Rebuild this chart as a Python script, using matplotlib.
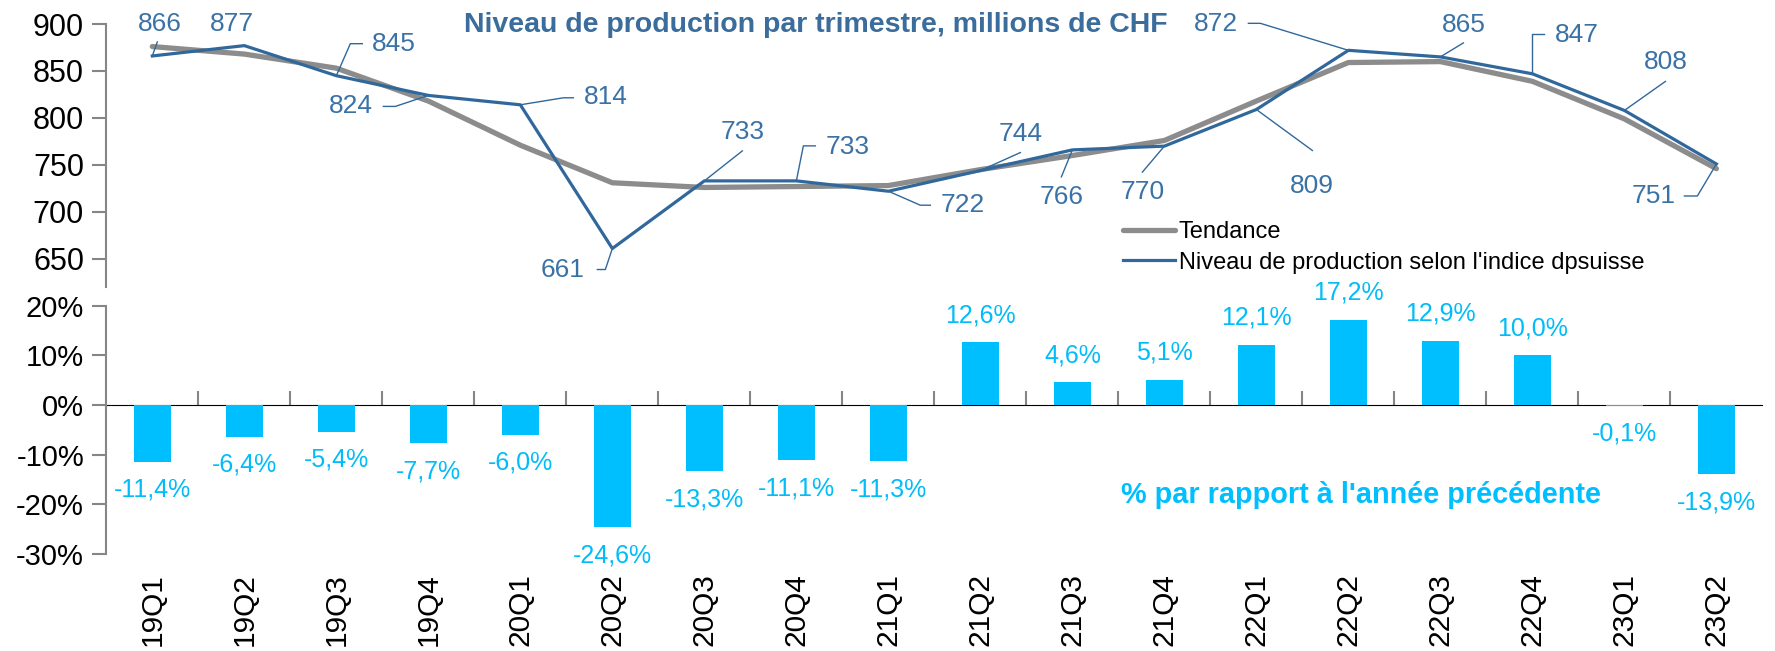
import matplotlib
matplotlib.use("Agg")
import matplotlib.pyplot as plt
from matplotlib.transforms import Affine2D, ScaledTranslation

quarters = ["19Q1", "19Q2", "19Q3", "19Q4", "20Q1", "20Q2", "20Q3", "20Q4", "21Q1",
            "21Q2", "21Q3", "21Q4", "22Q1", "22Q2", "22Q3", "22Q4", "23Q1", "23Q2"]
production = [866, 877, 845, 824, 814, 661, 733, 733, 722,
              744, 766, 770, 809, 872, 865, 847, 808, 751]
trend = [876, 868, 853, 818, 771, 731, 726, 727, 728,
         745, 760, 776, 818, 859, 860, 839, 799, 746]
yoy = [-11.4, -6.4, -5.4, -7.7, -6.0, -24.6, -13.3, -11.1, -11.3,
       12.6, 4.6, 5.1, 12.1, 17.2, 12.9, 10.0, -0.1, -13.9]

# label placement (pixels, relative to the point) and leader polylines
label_off = [(7, 32), (-12, 22), (57, 32), (-77, -11), (85, 8), (-50, -21),
             (38, 49), (51, 34), (74, -14), (40, 37), (-11, -47), (-22, -46),
             (56, -77), (-132, 26), (23, 32), (44, 39), (41, 48), (-63, -32)]
leaders = [[(0, 0), (5, 14)], None, [(0, 0), (14, 32), (26, 32)],
           [(0, 0), (-33, -11), (-45, -11)], [(0, 0), (43, 7), (53, 7)],
           [(0, 0), (-7, -21), (-15, -21)], [(0, 0), (38, 30)],
           [(0, 0), (7, 35), (19, 35)], [(0, 0), (32, -14), (42, -14)],
           [(0, 0), (40, 18)], [(0, 0), (-11, -27)], [(0, 0), (-22, -26)],
           [(0, 0), (56, -41)], [(0, 0), (-88, 27), (-100, 27)],
           [(0, 0), (23, 14)], [(0, 0), (0, 40), (12, 40)],
           [(0, 0), (41, 29)], [(0, 0), (-19, -32), (-32, -32)]]

BLUE = "#31689b"
LBLUE = "#3b72a6"
GREY = "#8c8c8c"
CYAN = "#00bfff"
AXC = "#868686"
SANS = ["Liberation Sans", "DejaVu Sans"]

plt.rcParams["font.family"] = SANS

fig = plt.figure(figsize=(17.75, 6.51), dpi=100)
ax1 = fig.add_axes([0.0599, 0.5591, 0.933, 0.404])
ax2 = fig.add_axes([0.0599, 0.1490, 0.933, 0.3814])

x = list(range(len(quarters)))

# ---- top: production level
ax1.plot(x, trend, color=GREY, lw=3.8, solid_capstyle="round", label="Tendance")
ax1.plot(x, production, color=BLUE, lw=2.3, label="Niveau de production selon l'indice dpsuisse")
ax1.set_xlim(-0.5, len(x) - 0.5)
ax1.set_ylim(620, 900)
ax1.set_yticks([650, 700, 750, 800, 850, 900])
for s in ["top", "right", "bottom"]:
    ax1.spines[s].set_visible(False)
ax1.spines["left"].set_color(AXC)
ax1.spines["left"].set_linewidth(1.5)
ax1.tick_params(axis="y", colors=AXC, length=10, width=1.5, labelsize=22, labelcolor="black", pad=6)
ax1.set_xticks([])

for i, v in enumerate(production):
    dx, dy = label_off[i]
    ax1.annotate(str(v), xy=(i, v), xytext=(dx, dy), textcoords="offset pixels",
                 ha="center", va="center", color=LBLUE, fontsize=19)
    if leaders[i]:
        tr = Affine2D() + ScaledTranslation(i, v, ax1.transData)
        lx = [p[0] for p in leaders[i]]
        ly = [p[1] for p in leaders[i]]
        ax1.plot(lx, ly, color=BLUE, lw=1.0, transform=tr, clip_on=False)

fig.text(0.4597, 0.961, "Niveau de production par trimestre, millions de CHF",
         ha="center", va="center", color="#3a6d9c", fontsize=20.5, fontweight="bold")

leg = ax1.legend(loc="center left", bbox_to_anchor=(0.6327, 0.6198), bbox_transform=fig.transFigure,
                 frameon=False, fontsize=17, handlelength=2.2, handletextpad=0.15,
                 labelspacing=0.35, borderpad=0, borderaxespad=0)

# ---- bottom: year-on-year change
ax2.bar(x, yoy, width=0.4, color=CYAN)
ax2.set_xlim(-0.5, len(x) - 0.5)
ax2.set_ylim(-30, 20)
ax2.set_yticks([-30, -20, -10, 0, 10, 20])
ax2.set_yticklabels([f"{t}%" for t in [-30, -20, -10, 0, 10, 20]])
for s in ["top", "right", "bottom"]:
    ax2.spines[s].set_visible(False)
ax2.spines["left"].set_color(AXC)
ax2.spines["left"].set_linewidth(1.5)
ax2.tick_params(axis="y", colors=AXC, length=10, width=1.5, labelsize=21, labelcolor="black", pad=6)
ax2.set_xticks(x)
ax2.set_xticklabels(quarters, rotation=90, fontsize=21.5)
ax2.tick_params(axis="x", length=0, pad=14)

zero = ax2.secondary_xaxis(0.6)
zero.set_xticks([i + 0.5 for i in range(len(x) - 1)])
zero.set_xticklabels([])
zero.spines["bottom"].set_color(AXC)
zero.spines["bottom"].set_linewidth(1.5)
zero.tick_params(axis="x", direction="out", length=10, width=1.5, colors=AXC)

for i, v in enumerate(yoy):
    off = 27 if v > 0 else -28
    ax2.annotate(f"{v:.1f}%".replace(".", ","), xy=(i, v), xytext=(0, off),
                 textcoords="offset pixels", ha="center", va="center", color="#00bcf8", fontsize=18)

fig.text(0.767, 0.239, "% par rapport à l'année précédente", ha="center", va="center",
         color=CYAN, fontsize=20.8, fontweight="bold")

fig.savefig("out.png", dpi=100)
